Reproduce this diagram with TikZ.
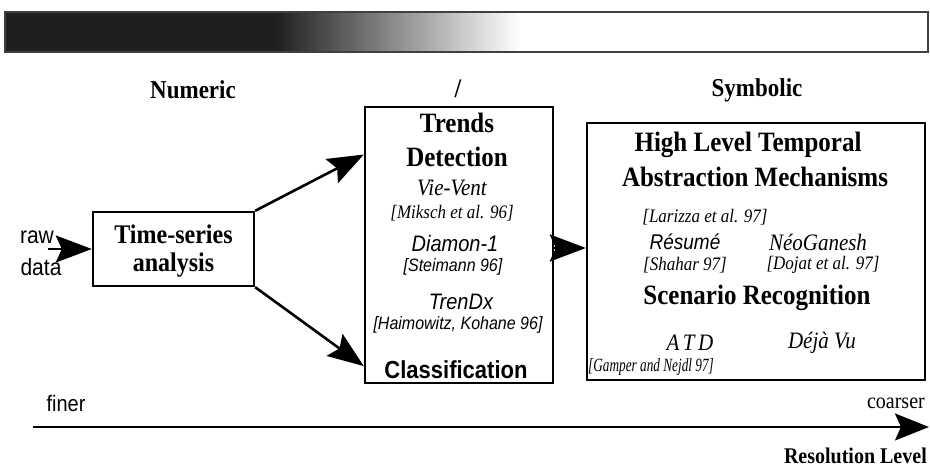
\documentclass[tikz,border=0pt]{standalone}
\usepackage{fontspec}
\setmainfont{Liberation Serif}
\newfontfamily\arialf{Liberation Sans}
\usetikzlibrary{arrows.meta,calc}
\newcommand{\fs}[1]{\fontsize{#1}{#1}\selectfont}
\newcommand{\st}[1]{\scalebox{1}[1.12]{#1}}
\begin{document}
\begin{tikzpicture}[x=1pt,y=-1pt,
  boxst/.style={draw=black,line width=2.4pt,inner sep=0pt},
  bigarrow/.style={line width=2.6pt,-{Stealth[length=36pt,width=27pt,inset=6pt]}},
  lbl/.style={inner sep=0pt,anchor=center},
  tb/.style={lbl,font=\bfseries\fs{25}},
  ti/.style={lbl,font=\itshape\fs{21}},
  tref/.style={lbl,font=\itshape\fs{17}},
  si/.style={lbl,font=\arialf\itshape\fs{20}},
  sref/.style={lbl,font=\arialf\itshape\fs{16}}]
\useasboundingbox (0,0) rectangle (930,471);
% gradient bar
\fill[black!88] (5,12) rectangle (275,52);
\shade[left color=black!88,right color=white] (275,12) rectangle (520,52);
\draw[black!75,line width=1.2pt] (5,12) rectangle (928,52);
% headings
\node[lbl,font=\bfseries\fs{23}] (numeric) at (193,90) {\st{Numeric}};
\node[lbl,font=\bfseries\fs{24}] (slash) at (458,89) {\st{/}};
\node[lbl,font=\bfseries\fs{23}] (symbolic) at (757,90) {\st{Symbolic}};
% boxes
\node[boxst,minimum width=161pt,minimum height=74pt] (ts) at (173.5,249) {};
\node[lbl,font=\bfseries\fs{24}] (tstext1) at (173.5,234) {\st{Time-series}};
\node[lbl,font=\bfseries\fs{24}] (tstext2) at (173.5,265) {\st{analysis}};
\node[boxst,minimum width=188pt,minimum height=276pt] (mid) at (459,245) {};
\node[boxst,minimum width=338pt,minimum height=257pt] (right) at (756,251.5) {};
% raw data
\node[lbl,font=\arialf\fs{21}] (raw) at (37,237) {\st{raw}};
\node[lbl,font=\arialf\fs{21}] (data) at (41,267) {\st{data}};
\coordinate (rawstart) at (48,249);
\draw[bigarrow] (rawstart) -- (ts.west);
% middle box text
\node[tb] (trends) at (457,123) {\st{Trends}};
\node[tb] (detection) at (457,157) {\st{Detection}};
\node[ti] (vievent) at (452,188) {\st{Vie-Vent}};
\node[tref] (miksch) at (452,213) {\st{[Miksch et al. 96]}};
\node[si] (diamon) at (455,243) {\st{Diamon-1}};
\node[sref] (steimann) at (453,267) {\st{[Steimann 96]}};
\node[si] (trendx) at (461,302) {\st{TrenDx}};
\node[sref] (haimo) at (458,325) {\st{[Haimowitz, Kohane 96]}};
\node[lbl,font=\arialf\bfseries\fs{22}] (classif) at (456,370) {\st{Classification}};
% arrows from time-series
\coordinate (midtop) at ($(mid.north west)!0.175!(mid.south west)$);
\coordinate (midbot) at ($(mid.north west)!0.935!(mid.south west)$);
\draw[bigarrow] (ts.north east) -- (midtop);
\draw[bigarrow] (ts.south east) -- (midbot);
\coordinate (m2r) at (0,248);
\draw[bigarrow] (mid.east |- m2r) -- (right.west |- m2r);
% right box text
\node[tb] (hlt) at (748,145) {\st{High Level Temporal}};
\node[tb] (abs) at (755,177) {\st{Abstraction Mechanisms}};
\node[tref] (larizza) at (705,217) {\st{[Larizza et al. 97]}};
\node[lbl,font=\arialf\itshape\fs{19}] (resume) at (685,242) {\st{Résumé}};
\node[ti] (neog) at (818,242) {\st{NéoGanesh}};
\node[tref] (shahar) at (685,265) {\st{[Shahar 97]}};
\node[tref] (dojat) at (823,265) {\st{[Dojat et al. 97]}};
\node[tb] (scen) at (757,298) {\st{Scenario Recognition}};
\node[ti] (atd) at (690,343) {\st{A\,T\,D}};
\node[ti] (deja) at (822,343) {\st{Déjà Vu}};
\node[lbl,font=\itshape\fs{17}] (gamper) at (651,367) {\scalebox{0.78}[1.1]{[Gamper and Nejdl 97]}};
% resolution axis
\node[lbl,font=\arialf\fs{20}] (finer) at (66,403) {\st{finer}};
\node[lbl,font=\fs{20},anchor=east] (coarser) at (925,403) {\st{coarser}};
\coordinate (axstart) at (33,427);
\coordinate (axend) at (929,427);
\draw[line width=2pt,-{Stealth[length=34pt,width=27pt,inset=6pt]}] (axstart) -- (axend);
\node[lbl,font=\bfseries\fs{20},anchor=east] (reslevel) at (927,456) {\st{Resolution Level}};
\end{tikzpicture}
\end{document}
